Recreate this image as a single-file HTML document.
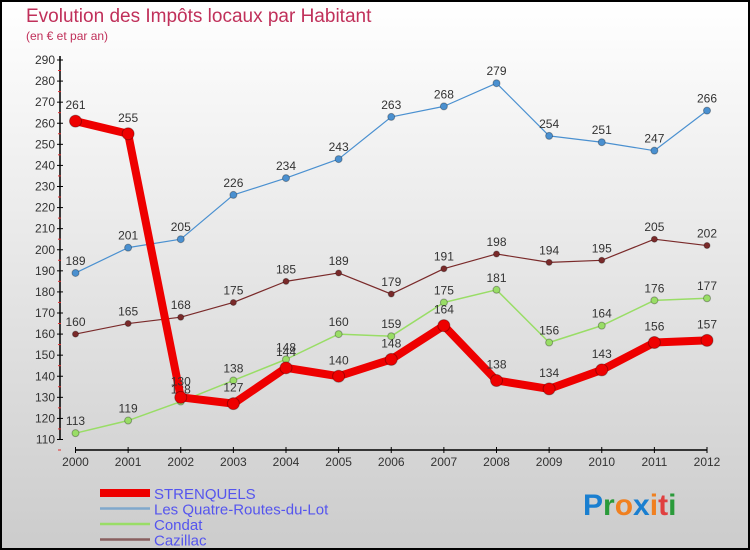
<!DOCTYPE html>
<html><head><meta charset="utf-8"><style>
html,body{margin:0;padding:0}
body{width:750px;height:550px;overflow:hidden;font-family:"Liberation Sans",sans-serif}
#wrap{position:relative;width:746px;height:546px;border:2px solid #000;background:linear-gradient(#ffffff,#cccccc)}
svg{position:absolute;left:-2px;top:-2px}
</style></head><body>
<div id="wrap">
<svg id="chart" width="750" height="550">
<text x="26" y="22" font-size="19" fill="#c0305a">Evolution des Impôts locaux par Habitant</text>
<text x="26" y="40" font-size="12" fill="#c0305a">(en € et par an)</text>
<g id="axes"></g><g id="series"></g>
<g id="legend"></g>
<text x="583" y="515" font-size="30" font-weight="bold"><tspan fill="#1a7fd0">P</tspan><tspan fill="#2a9a3a">r</tspan><tspan fill="#f08020">o</tspan><tspan fill="#1a7fd0">x</tspan><tspan fill="#f08020">i</tspan><tspan fill="#e04040">t</tspan><tspan fill="#2a9a3a">i</tspan></text>
</svg>
</div>
<script>
const years=[2000,2001,2002,2003,2004,2005,2006,2007,2008,2009,2010,2011,2012];
const yTicks=[110,120,130,140,150,160,170,180,190,200,210,220,230,240,250,260,270,280,290];
const strenquels=[261,255,130,127,144,140,148,164,138,134,143,156,157];
const quatreRoutes=[189,201,205,226,234,243,263,268,279,254,251,247,266];
const condat=[113,119,128,138,148,160,159,175,181,156,164,176,177];
const cazillac=[160,165,168,175,185,189,179,191,198,194,195,205,202];
const NS="http://www.w3.org/2000/svg";
const xS=i=>75.5+i*(707-75.5)/12;
const yS=v=>439.5-(v-110)*(439.5-60)/180;
function mk(tag,attrs,parent){const e=document.createElementNS(NS,tag);for(const k in attrs)e.setAttribute(k,attrs[k]);parent.appendChild(e);return e;}
const ax=document.getElementById('axes');
let l=mk('line',{x1:60,y1:56,x2:60,y2:440,stroke:'#000','stroke-width':1.5},ax);


l=mk('line',{x1:75.5,y1:450,x2:707,y2:450,stroke:'#000','stroke-width':1.5},ax);


yTicks.forEach(v=>{
 const y=yS(v);
 mk('line',{x1:57,y1:y,x2:63,y2:y,stroke:'#000'},ax);
 mk('line',{x1:58,y1:y+10.5,x2:61,y2:y+10.5,stroke:'#e03030'},ax);
 const t=mk('text',{x:55,y:y+4,'font-size':12,fill:'#333','text-anchor':'end'},ax);
 t.textContent=v;
 
 
});
years.forEach((yr,i)=>{
 const x=xS(i);
 mk('line',{x1:x,y1:447,x2:x,y2:453,stroke:'#000'},ax);
 const t=mk('text',{x:x,y:466,'font-size':12,fill:'#333','text-anchor':'middle'},ax);
 t.textContent=yr;
 
 
});
const sg=document.getElementById('series');
function draw(data,color,width,r,name,labelOff){
 const g=mk('g',{},sg);
 
 
 const pts=data.map((v,i)=>xS(i)+','+yS(v)).join(' ');
 mk('polyline',{points:pts,fill:'none',stroke:color,'stroke-width':width,'stroke-linejoin':'round'},g);
 data.forEach((v,i)=>{
  const c=mk('circle',{cx:xS(i),cy:yS(v),r:r,fill:color,stroke:'rgba(0,0,0,0.3)'},g);
  
  
  const t=mk('text',{x:xS(i),y:yS(v)-labelOff,'font-size':12,fill:'#333','text-anchor':'middle'},g);
  t.textContent=v;
  
  
 });
}
draw(cazillac,'#7a2a2a',1.2,3,'cazillac',8);
draw(condat,'#99dd66',1.5,3.5,'condat',8);
draw(quatreRoutes,'#4a90d0',1.2,3.5,'quatre-routes',8);
draw(strenquels,'#ee0000',8,6,'strenquels',12);
const lg=document.getElementById('legend');
const items=[['STRENQUELS','#ee0000',8],['Les Quatre-Routes-du-Lot','#80a8cc',2.5],['Condat','#99dd66',2.5],['Cazillac','#8a6060',2.5]];
items.forEach((it,i)=>{
 const y=493+i*15.5;
 mk('line',{x1:100,y1:y,x2:150,y2:y,stroke:it[1],'stroke-width':it[2]},lg);
 const t=mk('text',{x:154,y:y+6,'font-size':15,fill:'#5555ee'},lg);
 t.textContent=it[0];
 
 
});
</script>
</body></html>
